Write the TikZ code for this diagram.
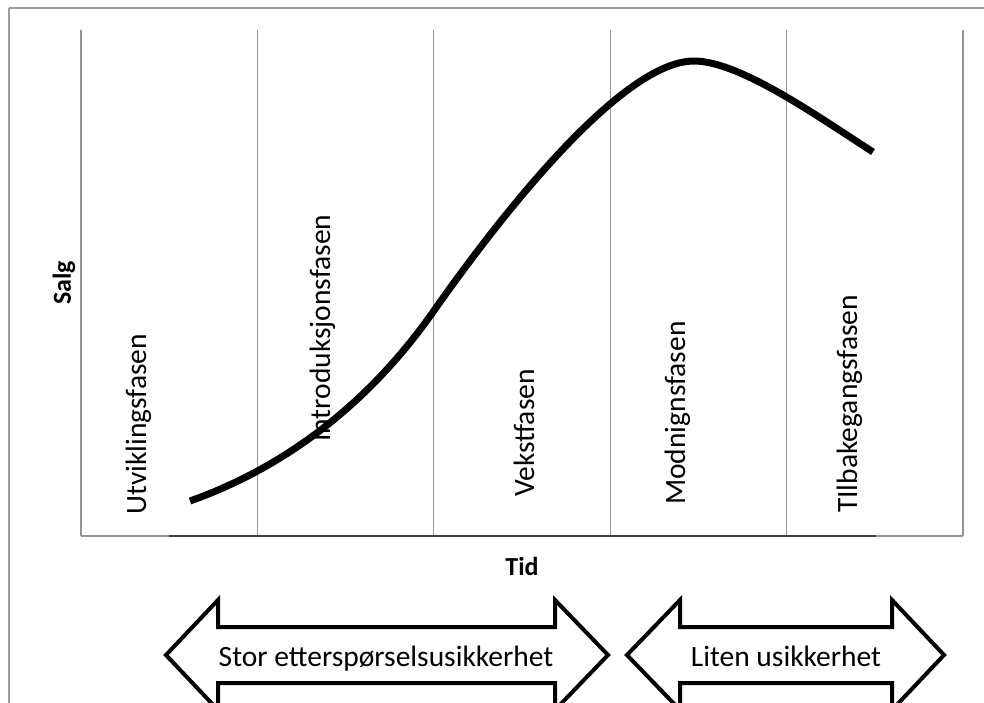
\documentclass[tikz,border=0pt]{standalone}
\usepackage{fontspec}
\setmainfont{Carlito}
\begin{document}
\begin{tikzpicture}[x=1pt,y=-1pt,
  frame/.style={draw=black!38, line width=1.5pt},
  grid/.style={draw=black!42, line width=1.3pt},
  axisdark/.style={draw=black!75, line width=1.5pt},
  phase/.style={rotate=90, anchor=base west, inner sep=0pt, font=\fontsize{29.5}{31}\selectfont},
  axlabel/.style={inner sep=0pt, font=\fontsize{26}{28}\selectfont\bfseries},
  salescurve/.style={draw=black, line width=7pt, line cap=butt},
  bigarrow/.style={draw=black, line width=4pt, line join=miter, fill=white},
  arrowtext/.style={anchor=base, inner sep=0pt, font=\fontsize{29.5}{31}\selectfont}]
\useasboundingbox (0,0) rectangle (984,703);
\fill[white] (0,0) rectangle (984,703);

% outer frame of the chart object
\draw[frame] (9,8) -- (9,760) (9,8) -- (1050,8);

% phase separators
\foreach \x in {81,257.4,433.8,610.2,786.6,963}
  \draw[grid] (\x,30) -- (\x,536);
\draw[grid] (81,536) -- (963,536);
\draw[axisdark] (169,536) -- (876,536);

% phase names
\node[phase] (p1) at (146,515) {Utviklingsfasen};
\node[phase] (p2) at (330,442) {Introduksjonsfasen};
\node[phase] (p3) at (534,497) {Vekstfasen};
\node[phase] (p4) at (685,505) {Modnignsfasen};
\node[phase] (p5) at (857,513) {TIlbakegangsfasen};

% axis titles
\node[axlabel, rotate=90] (salg) at (64,283) {Salg};
\node[axlabel] (tid) at (522,566) {Tid};

% sales curve
\coordinate (c0) at (190,501);
\coordinate (c1) at (433,312);
\coordinate (c2) at (694,61);
\coordinate (c3) at (873,152);
\draw[salescurve] (c0) .. controls (252,479) and (350,430) .. (c1)
  .. controls (518,191) and (628,61) .. (c2)
  .. controls (740,61) and (820,118) .. (c3);

% uncertainty arrows
\draw[bigarrow] (166,655) -- (218,600) -- (218,627) -- (555,627) -- (555,600)
  -- (608,655) -- (555,710) -- (555,683) -- (218,683) -- (218,710) -- cycle;
\node[arrowtext] (a1) at (386,666) {Stor etterspørselsusikkerhet};

\draw[bigarrow] (627,655) -- (680,600) -- (680,627) -- (892,627) -- (892,600)
  -- (944,655) -- (892,710) -- (892,683) -- (680,683) -- (680,710) -- cycle;
\node[arrowtext] (a2) at (786,666) {Liten usikkerhet};
\end{tikzpicture}
\end{document}
